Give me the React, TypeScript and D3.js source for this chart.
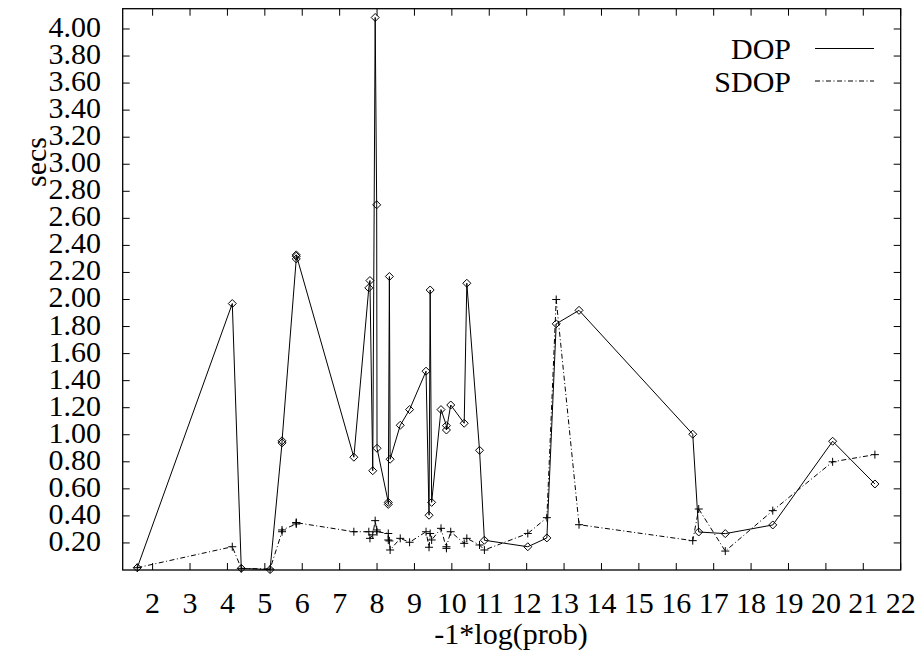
import React from "react";
import * as d3 from "d3";

// -1*log(prob) for each query
const probX = [
  1.59, 4.13, 4.37, 5.14, 5.46, 5.46, 5.84, 5.84, 5.84, 7.38, 7.78, 7.81, 7.885,
  7.95, 7.99, 8.0, 8.3, 8.3, 8.33, 8.35, 8.62, 8.87, 9.31, 9.39, 9.42, 9.46,
  9.71, 9.855, 9.855, 9.97, 10.33, 10.4, 10.74, 10.87, 12.03, 12.54, 12.79,
  13.4, 16.44, 16.6, 17.31, 18.58, 20.18, 21.31,
];

// DOP timings (secs)
const dopSecs = [
  0.017, 1.97, 0.012, 0.003, 0.94, 0.955, 2.3, 2.32, 2.33, 0.834, 2.086, 2.14,
  0.734, 4.085, 2.7, 0.9, 0.5, 0.485, 2.17, 0.819, 1.07, 1.186, 1.47, 0.405,
  2.07, 0.5, 1.186, 1.067, 1.035, 1.22, 1.085, 2.12, 0.885, 0.22, 0.172, 0.237,
  1.82, 1.92, 1.004, 0.281, 0.269, 0.333, 0.952, 0.636,
];

// SDOP timings (secs)
const sdopSecs = [
  0.017, 0.172, 0.012, 0.007, 0.283, 0.296, 0.34, 0.35, 0.35, 0.283, 0.283,
  0.234, 0.26, 0.365, 0.296, 0.283, 0.27, 0.222, 0.215, 0.148, 0.234, 0.205,
  0.283, 0.168, 0.27, 0.222, 0.308, 0.16, 0.172, 0.283, 0.197, 0.234, 0.185,
  0.148, 0.27, 0.387, 2.0, 0.335, 0.217, 0.451, 0.14, 0.439, 0.8, 0.853,
];

const xTicks = d3.range(2, 23);
const yTicks = d3.range(1, 21).map((i) => i * 0.2);
const seriesNames = ["DOP", "SDOP"];

const W = 919;
const H = 651;

function T(props: any) {
  const { children, ...rest } = props;
  return (
    <text
      {...rest}
      fontFamily="Liberation Serif"
      fontSize={30}
      style={{ fontFamily: "Liberation Serif", fontSize: 30 }}
    >
      {children}
    </text>
  );
}

export default function App() {
  const left = 122.7;
  const right = 900.7;
  const top = 8.7;
  const bottom = 570;
  const x = d3.scaleLinear().domain([1.2, 22]).range([left, right]);
  const y = d3.scaleLinear().domain([0, 4.15]).range([bottom, top]);

  const dopPts = probX.map((v, i) => [x(v), y(dopSecs[i])] as [number, number]);
  const sdopPts = probX.map((v, i) => [x(v), y(sdopSecs[i])] as [number, number]);
  const line = d3.line();
  const tick = 7;
  const dash = "5,2.5,1,2.5";

  return (
    <svg width={W} height={H} style={{ position: "absolute", left: 0, top: 0 }}>
      <style>{`text { font-family: "Liberation Serif", serif !important; }`}</style>
      <rect x={0} y={0} width={W} height={H} fill="#fff" />
      {/* ticks */}
      <g stroke="#000" strokeWidth={1}>
        {xTicks.map((t) => (
          <g key={"xt" + t}>
            <line x1={x(t)} x2={x(t)} y1={bottom} y2={bottom - tick} />
            <line x1={x(t)} x2={x(t)} y1={top} y2={top + tick} />
          </g>
        ))}
        {yTicks.map((t) => (
          <g key={"yt" + t}>
            <line x1={left} x2={left + tick} y1={y(t)} y2={y(t)} />
            <line x1={right} x2={right - tick} y1={y(t)} y2={y(t)} />
          </g>
        ))}
      </g>
      {/* tick labels */}
      {xTicks.map((t) => (
        <T key={"xl" + t} x={x(t)} y={613} textAnchor="middle">
          {String(t)}
        </T>
      ))}
      {yTicks.map((t) => (
        <T key={"yl" + t} x={101} y={y(t) + 8} textAnchor="end">
          {t.toFixed(2)}
        </T>
      ))}
      <T x={511} y={644} textAnchor="middle">
        -1*log(prob)
      </T>
      <T x={0} y={0} textAnchor="middle" transform="translate(46,162) rotate(-90)">
        secs
      </T>
      {/* series lines */}
      <path d={line(dopPts) || ""} fill="none" stroke="#000" strokeWidth={1} />
      <path d={line(sdopPts) || ""} fill="none" stroke="#000" strokeWidth={1} strokeDasharray={dash} />
      {/* markers */}
      <g fill="none" stroke="#000" strokeWidth={1}>
        {dopPts.map(([px, py], i) => (
          <path key={"d" + i} d={`M${px},${py - 4}L${px + 4},${py}L${px},${py + 4}L${px - 4},${py}Z`} />
        ))}
        {sdopPts.map(([px, py], i) => (
          <path key={"p" + i} d={`M${px - 4},${py}H${px + 4}M${px},${py - 4}V${py + 4}`} />
        ))}
      </g>
      {/* legend */}
      <T x={791} y={59} textAnchor="end">
        {seriesNames[0]}
      </T>
      <line x1={815} x2={874} y1={48.5} y2={48.5} stroke="#000" strokeWidth={1} />
      <T x={791} y={92} textAnchor="end">
        {seriesNames[1]}
      </T>
      <line x1={815} x2={874} y1={81} y2={81} stroke="#000" strokeWidth={1} strokeDasharray={dash} />
      {/* frame */}
      <rect x={left} y={top} width={right - left} height={bottom - top} fill="none" stroke="#000" strokeWidth={1.3} />
    </svg>
  );
}
